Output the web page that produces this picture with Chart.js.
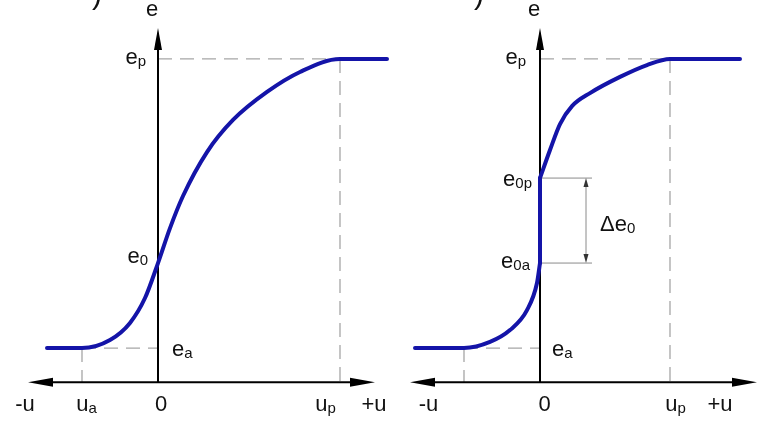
<!DOCTYPE html>
<html>
<head>
<meta charset="utf-8">
<script src="https://cdn.jsdelivr.net/npm/chart.js@4.4.1/dist/chart.umd.min.js"></script>
<style>
  html, body { margin: 0; padding: 0; background: #fff; }
  #wrap { position: relative; width: 764px; height: 431px; overflow: hidden; background: #fff; }
  canvas { position: absolute; top: 0; }
  #chartA { left: 0; }
  #chartB { left: 400px; }
</style>
</head>
<body>
<div id="wrap">
  <canvas id="chartA" width="400" height="431"></canvas>
  <canvas id="chartB" width="364" height="431"></canvas>
</div>
<script>
// --- data (u = horizontal, e = vertical, e_a = 0, e_p = 1) ---
const curveA_u = [-1.11, -0.76, -0.48, -0.28, -0.13, 0, 0.12, 0.25, 0.49, 0.75, 1.09, 1.42, 1.82, 2.29];
const curveA_e = [0, 0, 0.028, 0.087, 0.173, 0.294, 0.415, 0.526, 0.678, 0.789, 0.886, 0.955, 1, 1];

const curveB_low_u = [-1.25, -0.76, -0.50, -0.30, -0.13, -0.03, 0];
const curveB_low_e = [0, 0, 0.021, 0.062, 0.131, 0.225, 0.294];
const curveB_jump_u = [0, 0];
const curveB_jump_e = [0.294, 0.588];
const curveB_up_u = [0, 0.10, 0.20, 0.32, 0.50, 0.80, 1.07, 1.30, 2.00];
const curveB_up_e = [0.588, 0.685, 0.775, 0.837, 0.882, 0.938, 0.979, 1, 1];

// levels on e axis
const E_A = 0, E_P = 1, E_0 = 0.294, E_0A = 0.294, E_0P = 0.588;
// marks on u axis
const U_A_A = -0.76, U_P_A = 1.82;
const U_A_B = -0.76, U_P_B = 1.30;

// tick labels under the u axis ("main|sub")
const ticksA_text = ['-u', 'u|a', '0', 'u|p', '+u'];
const ticksA_at   = [-1.33, -0.715, 0.03, 1.675, 2.16];
const ticksB_text = ['-u', '0', 'u|p', '+u'];
const ticksB_at   = [-1.115, 0.045, 1.355, 1.80];

// axis extents
const AXIS_U = [-1.30, 2.17];
const AXIS_E = [-0.118, 1.107];
const Y_MIN = -0.287, Y_MAX = 1.204;

const BLUE = '#1414a8';
const GREY = '#a6a6a6';
const FONT = '"Liberation Sans", Arial, sans-serif';

function pts(us, es) {
  return us.map((u, i) => ({ x: u, y: es[i] }));
}

function curve(data, mode) {
  return {
    data: data,
    showLine: true,
    borderColor: BLUE,
    borderWidth: 4,
    pointRadius: 0,
    cubicInterpolationMode: mode,
    tension: 0,
    clip: false,
    borderCapStyle: 'round',
    borderJoinStyle: 'round'
  };
}

function dashed(ctx, x1, y1, x2, y2) {
  ctx.save();
  ctx.strokeStyle = GREY;
  ctx.lineWidth = 1.3;
  ctx.setLineDash([14, 8]);
  ctx.beginPath();
  ctx.moveTo(x1, y1);
  ctx.lineTo(x2, y2);
  ctx.stroke();
  ctx.restore();
}

function arrowHead(ctx, tipX, tipY, dx, dy, len, half, color) {
  // dx,dy = unit direction of arrow
  const bx = tipX - dx * len, by = tipY - dy * len;
  ctx.save();
  ctx.fillStyle = color;
  ctx.beginPath();
  ctx.moveTo(tipX, tipY);
  ctx.lineTo(bx - dy * half, by + dx * half);
  ctx.lineTo(bx + dy * half, by - dx * half);
  ctx.closePath();
  ctx.fill();
  ctx.restore();
}

// "e|p" -> e with subscript p
function label(ctx, str, x, y, align) {
  const parts = str.split('|');
  const main = parts[0], sub = parts[1] || '';
  ctx.save();
  ctx.fillStyle = '#111';
  ctx.textBaseline = 'alphabetic';
  ctx.textAlign = 'left';
  ctx.font = '22px ' + FONT;
  const wm = ctx.measureText(main).width;
  ctx.font = '15px ' + FONT;
  const ws = ctx.measureText(sub).width;
  const w = wm + ws;
  let x0 = x;
  if (align === 'right') x0 = x - w;
  else if (align === 'center') x0 = x - w / 2;
  ctx.font = '22px ' + FONT;
  ctx.fillText(main, x0, y);
  if (sub) {
    ctx.font = '15px ' + FONT;
    ctx.fillText(sub, x0 + wm, y + 2);
  }
  ctx.restore();
}

function diagramPlugin(p) {
  return {
    id: 'diagram',
    beforeDatasetsDraw(chart) {
      const ctx = chart.ctx;
      const X = v => chart.scales.x.getPixelForValue(v);
      const Y = v => chart.scales.y.getPixelForValue(v);
      const x0 = X(0), yAx = Y(AXIS_E[0]);

      // guides
      dashed(ctx, x0, Y(E_P), X(p.uP), Y(E_P));
      dashed(ctx, X(p.uP), Y(E_P), X(p.uP), yAx);
      dashed(ctx, X(p.uA), Y(E_A), x0, Y(E_A));
      dashed(ctx, X(p.uA), Y(E_A), X(p.uA), yAx);

      // delta e0 dimension
      if (p.delta) {
        const xa = X(p.delta.arrowU), xe = X(p.delta.endU);
        const y1 = Y(E_0P), y2 = Y(E_0A);
        ctx.save();
        ctx.strokeStyle = '#8a8a8a';
        ctx.lineWidth = 1;
        ctx.beginPath();
        ctx.moveTo(x0, y1); ctx.lineTo(xe, y1);
        ctx.moveTo(x0, y2); ctx.lineTo(xe, y2);
        ctx.moveTo(xa, y1 + 6); ctx.lineTo(xa, y2 - 6);
        ctx.stroke();
        ctx.restore();
        arrowHead(ctx, xa, y1, 0, -1, 9, 2.5, '#333');
        arrowHead(ctx, xa, y2, 0, 1, 9, 2.5, '#333');
      }

      // axes
      ctx.save();
      ctx.strokeStyle = '#000';
      ctx.lineWidth = 2;
      ctx.beginPath();
      ctx.moveTo(X(AXIS_U[0]) + 10, yAx);
      ctx.lineTo(X(AXIS_U[1]) - 10, yAx);
      ctx.moveTo(x0, yAx);
      ctx.lineTo(x0, Y(AXIS_E[1]) + 10);
      ctx.stroke();
      ctx.restore();
      arrowHead(ctx, X(AXIS_U[0]), yAx, -1, 0, 25, 4.5, '#000');
      arrowHead(ctx, X(AXIS_U[1]), yAx, 1, 0, 25, 4.5, '#000');
      arrowHead(ctx, x0, Y(AXIS_E[1]), 0, -1, 22, 4, '#000');
    },
    afterDatasetsDraw(chart) {
      const ctx = chart.ctx;
      const X = v => chart.scales.x.getPixelForValue(v);
      const Y = v => chart.scales.y.getPixelForValue(v);
      const x0 = X(0);

      // clipped panel letter at the very top
      ctx.save();
      ctx.fillStyle = '#111';
      ctx.font = '30px ' + FONT;
      ctx.textAlign = 'right';
      ctx.fillText(')', x0 - 56, 4);
      ctx.restore();

      label(ctx, 'e', x0 - 6, 16, 'center');

      p.eLabels.forEach(l => {
        const x = l.side === 'left' ? x0 - l.gap : x0 + l.gap;
        label(ctx, l.text, x, Y(l.e) + l.dy, l.side === 'left' ? 'right' : 'left');
      });

      const yAx = Y(AXIS_E[0]);
      p.ticks.forEach((t, i) => label(ctx, t, X(p.tickAt[i]), yAx + 29, 'center'));

      if (p.delta) label(ctx, 'Δe|0', X(p.delta.arrowU) + 14, Y((E_0P + E_0A) / 2) + 10, 'left');
    }
  };
}

function buildChart(id, xMin, xMax, datasets, panel) {
  return new Chart(document.getElementById(id), {
    type: 'scatter',
    data: { datasets: datasets },
    options: {
      responsive: false,
      animation: false,
      devicePixelRatio: 1,
      layout: { padding: 0 },
      plugins: { legend: { display: false }, tooltip: { enabled: false } },
      scales: {
        x: { type: 'linear', min: xMin, max: xMax, display: false },
        y: { type: 'linear', min: Y_MIN, max: Y_MAX, display: false }
      }
    },
    plugins: [diagramPlugin(panel)]
  });
}

buildChart('chartA', -1.58, 2.42,
  [curve(pts(curveA_u, curveA_e), 'monotone')],
  {
    uA: U_A_A, uP: U_P_A,
    eLabels: [
      { text: 'e|p', e: E_P, side: 'left', gap: 12, dy: 5 },
      { text: 'e|0', e: E_0, side: 'left', gap: 10, dy: 0 },
      { text: 'e|a', e: E_A, side: 'right', gap: 14, dy: 8 }
    ],
    ticks: ticksA_text, tickAt: ticksA_at
  });

buildChart('chartB', -1.40, 2.24,
  [
    curve(pts(curveB_low_u, curveB_low_e), 'monotone'),
    curve(pts(curveB_jump_u, curveB_jump_e), 'default'),
    curve(pts(curveB_up_u, curveB_up_e), 'monotone')
  ],
  {
    uA: U_A_B, uP: U_P_B,
    eLabels: [
      { text: 'e|p', e: E_P, side: 'left', gap: 14, dy: 5 },
      { text: 'e|0p', e: E_0P, side: 'left', gap: 8, dy: 8 },
      { text: 'e|0a', e: E_0A, side: 'left', gap: 10, dy: 5 },
      { text: 'e|a', e: E_A, side: 'right', gap: 12, dy: 8 }
    ],
    ticks: ticksB_text, tickAt: ticksB_at,
    delta: { arrowU: 0.46, endU: 0.52 }
  });
</script>
</body>
</html>
